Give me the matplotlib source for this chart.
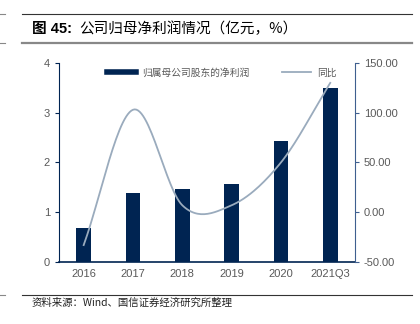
import numpy as np
import matplotlib
matplotlib.use("Agg")
import matplotlib.pyplot as plt
from matplotlib.lines import Line2D

plt.rcParams['font.family'] = ['Liberation Sans', 'Noto Sans CJK SC', 'DejaVu Sans']

years = ['2016', '2017', '2018', '2019', '2020', '2021Q3']
profit = [0.69, 1.38, 1.47, 1.56, 2.43, 3.50]
yoy = [-33.0, 103.0, 7.0, 7.0, 50.0, 130.0]

BAR = '#002452'
LINE = '#9aabbd'
GREY = '#595959'


def smooth(x, y, n=30):
    # Excel-like smoothed line (Catmull-Rom between the data points)
    x = np.asarray(x, float)
    y = np.asarray(y, float)
    px = np.concatenate([[2 * x[0] - x[1]], x, [2 * x[-1] - x[-2]]])
    py = np.concatenate([[2 * y[0] - y[1]], y, [2 * y[-1] - y[-2]]])
    xs, ys = [], []
    t = np.linspace(0, 1, n)
    for i in range(1, len(px) - 2):
        m0x = (px[i + 1] - px[i - 1]) / 2
        m1x = (px[i + 2] - px[i]) / 2
        m0y = (py[i + 1] - py[i - 1]) / 2
        m1y = (py[i + 2] - py[i]) / 2
        h00 = 2 * t**3 - 3 * t**2 + 1
        h10 = t**3 - 2 * t**2 + t
        h01 = -2 * t**3 + 3 * t**2
        h11 = t**3 - t**2
        xs.append(h00 * px[i] + h10 * m0x + h01 * px[i + 1] + h11 * m1x)
        ys.append(h00 * py[i] + h10 * m0y + h01 * py[i + 1] + h11 * m1y)
    return np.concatenate(xs), np.concatenate(ys)


fig = plt.figure(figsize=(4.2, 3.24), dpi=100)
ax = fig.add_axes([0.1405, 0.1914, 0.7045, 0.6142])
ax2 = ax.twinx()

x = np.arange(len(years))
ax.bar(x, profit, width=0.3, color=BAR, zorder=2)
ax.set_xlim(-0.5, len(years) - 0.5)
ax.set_ylim(0, 4)
ax.set_yticks([0, 1, 2, 3, 4])
ax.set_xticks(x)
ax.set_xticklabels(years)

sx, sy = smooth(x, yoy)
ax2.plot(sx, sy, color=LINE, lw=1.3, zorder=3)
ax2.set_ylim(-50, 150)
ax2.set_yticks([-50, 0, 50, 100, 150])
ax2.set_yticklabels(['%.2f' % v for v in [-50, 0, 50, 100, 150]])

for a in (ax, ax2):
    a.spines['top'].set_visible(False)
ax.spines['right'].set_visible(False)
ax2.spines['left'].set_visible(False)
ax2.spines['bottom'].set_visible(False)
ax.spines['left'].set_color(BAR)
ax.spines['bottom'].set_color(BAR)
ax.spines['bottom'].set_linewidth(1.2)
ax2.spines['right'].set_color('#3f5f8f')

ax.tick_params(axis='y', colors=BAR, labelcolor=GREY, labelsize=8, length=3, width=0.8)
ax.tick_params(axis='x', length=0, labelcolor=GREY, labelsize=8, pad=5)
ax2.tick_params(axis='y', colors='#3f5f8f', labelcolor=GREY, labelsize=8, length=3, width=0.8)

handles = [Line2D([], [], color=BAR, lw=4), Line2D([], [], color=LINE, lw=1.3)]
leg = ax.legend(handles, ['归属母公司股东的净利润', '同比'], ncol=2, loc='upper center',
                bbox_to_anchor=(0.55, 1.02), frameon=False,
                prop={'family': ['Noto Sans CJK SC'], 'size': 7},
                handlelength=3.0, columnspacing=3.3, handletextpad=0.6)
for t in leg.get_texts():
    t.set_color(GREY)

# header / footer rules
fig.add_artist(Line2D([22 / 420, 412 / 420], [1 - 14 / 324] * 2, color='#333333', lw=0.8))
fig.add_artist(Line2D([22 / 420, 412 / 420], [1 - 43 / 324] * 2, color='#888888', lw=1.6))
fig.add_artist(Line2D([22 / 420, 412 / 420], [1 - 295 / 324] * 2, color='#333333', lw=0.8))
for yy in (14, 43, 295):
    fig.add_artist(Line2D([0, 5 / 420], [1 - yy / 324] * 2, color='#888888', lw=0.8))

fig.text(32 / 420, 1 - 29 / 324, '图 45:', fontsize=10.5, fontweight='bold', va='center',
         family=['Liberation Sans', 'Noto Sans CJK SC'])
fig.text(79 / 420, 1 - 29 / 324, '公司归母净利润情况（亿元，%）', fontsize=10.5, va='center',
         family=['Noto Sans CJK SC'])
fig.text(32 / 420, 1 - 303 / 324, '资料来源：Wind、国信证券经济研究所整理', fontsize=7.5, va='center',
         family=['Noto Sans CJK SC'], color='#222222')

fig.savefig('out.png', dpi=100)
